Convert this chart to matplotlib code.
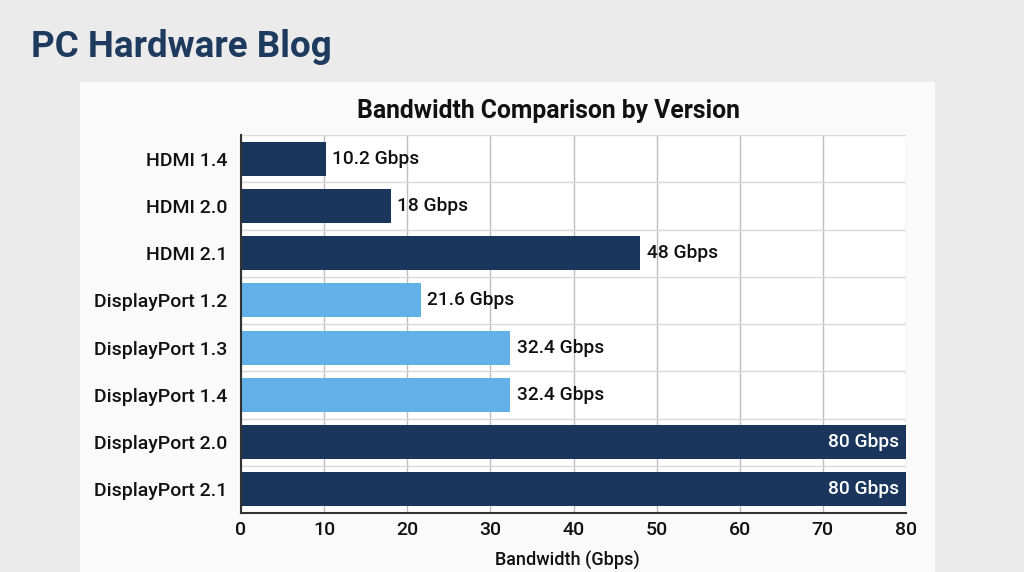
import matplotlib
matplotlib.use("Agg")
import matplotlib.pyplot as plt
from matplotlib.patches import Rectangle

categories = ["HDMI 1.4", "HDMI 2.0", "HDMI 2.1", "DisplayPort 1.2",
              "DisplayPort 1.3", "DisplayPort 1.4", "DisplayPort 2.0", "DisplayPort 2.1"]
values = [10.2, 18, 48, 21.6, 32.4, 32.4, 80, 80]
labels = ["10.2 Gbps", "18 Gbps", "48 Gbps", "21.6 Gbps", "32.4 Gbps", "32.4 Gbps", "80 Gbps", "80 Gbps"]
colors = ["#1b365d", "#1b365d", "#1b365d", "#63b0e8", "#63b0e8", "#63b0e8", "#1b365d", "#1b365d"]
xticks = [0, 10, 20, 30, 40, 50, 60, 70, 80]

plt.rcParams['font.family'] = ['Roboto', 'DejaVu Sans']

fig = plt.figure(figsize=(10.24, 5.72), dpi=100)
fig.patch.set_facecolor("#ebebeb")

# panel
fig.patches.append(Rectangle((80/1024, 0), (935-80)/1024, (572-82)/572,
                             transform=fig.transFigure, facecolor="#fafafa",
                             edgecolor="none", zorder=-10))

fig.text(31/1024, 1 - 47/572, "PC Hardware Blog", fontsize=26.5, fontweight="bold",
         color="#1f3a5f", va="center", ha="left")

ax = fig.add_axes([241/1024, 1 - 513/572, (906-241)/1024, (513-135)/572])
ax.set_zorder(2)
ax.set_facecolor("white")

y = list(range(len(categories)))
ax.barh(y, values, height=0.72, color=colors, zorder=3)
ax.set_ylim(len(categories) - 0.5, -0.5)
ax.set_xlim(0, 80)
ax.set_xticks(xticks)
ax.set_yticks(y)
ax.set_yticklabels(categories, fontweight="medium")
ax.set_xticklabels([str(t) for t in xticks], fontweight="medium")
ax.set_yticks([i + 0.5 for i in range(-1, len(categories))], minor=True)
ax.tick_params(axis='y', which='minor', length=0)
ax.tick_params(axis='both', which='major', length=0, labelsize=14, colors="#111111")
ax.tick_params(axis='y', pad=10)
ax.tick_params(axis='x', pad=6)
ax.grid(axis='x', which='major', color="#bdbdbd", linewidth=1, zorder=0)
ax.grid(axis='y', which='minor', color="#d8d8d8", linewidth=1, zorder=0)

for s in ["top", "right"]:
    ax.spines[s].set_visible(False)
for s in ["left", "bottom"]:
    ax.spines[s].set_color("#333333")
    ax.spines[s].set_linewidth(1.5)
    ax.spines[s].set_zorder(4)

for i, (v, lab) in enumerate(zip(values, labels)):
    if v >= 75:
        ax.text(v - 0.8, i, lab, ha="right", va="center", color="white", fontsize=13.8,
                fontweight="medium", zorder=5)
    else:
        ax.text(v + 0.8, i, lab, ha="left", va="center", color="#111111", fontsize=13.8,
                fontweight="medium", zorder=5)

ax.text(0.462, 1 + 24/378, "Bandwidth Comparison by Version", transform=ax.transAxes,
        fontsize=17.8, fontweight="bold", color="#111111", ha="center", va="center")
ax.set_xlabel("Bandwidth (Gbps)", fontsize=13, color="#111111", labelpad=4,
              fontweight="medium")
ax.xaxis.set_label_coords((567-241)/665, -(551-513)/378)

fig.savefig("out.png", dpi=100, facecolor=fig.get_facecolor())
